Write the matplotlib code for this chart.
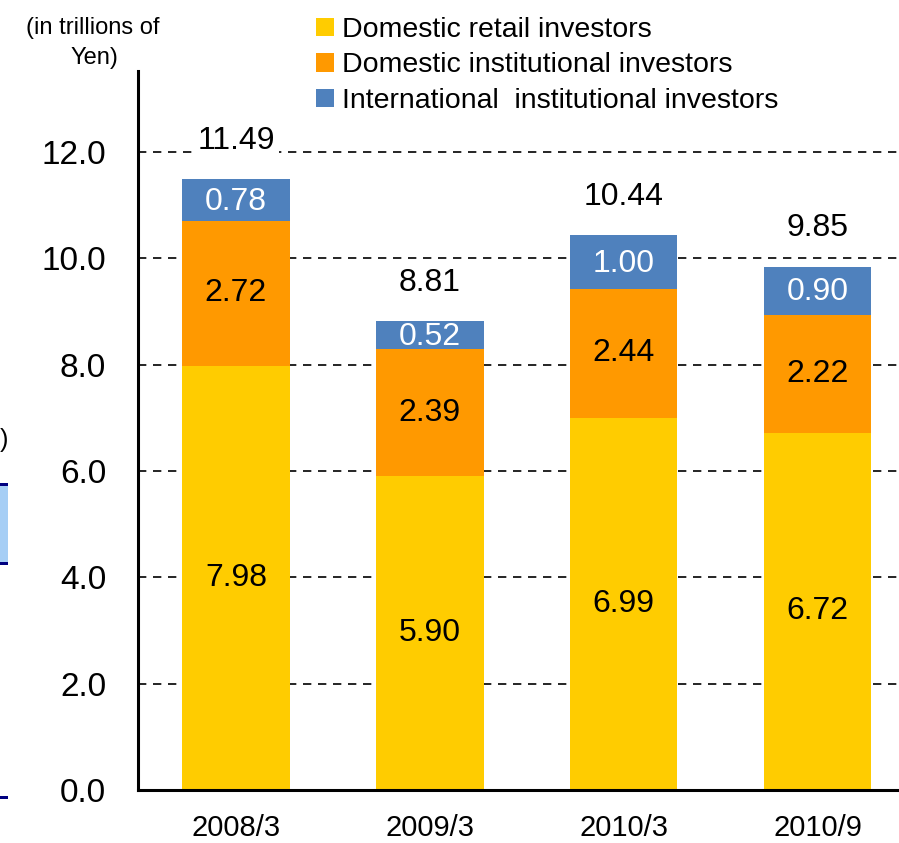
import matplotlib
matplotlib.use("Agg")
import matplotlib.pyplot as plt
from matplotlib.patches import Rectangle
import numpy as np

categories = ["2008/3", "2009/3", "2010/3", "2010/9"]
retail = [7.98, 5.90, 6.99, 6.72]
dom_inst = [2.72, 2.39, 2.44, 2.22]
intl_inst = [0.78, 0.52, 1.00, 0.90]
totals = [11.49, 8.81, 10.44, 9.85]
yticks = [0.0, 2.0, 4.0, 6.0, 8.0, 10.0, 12.0]
series_names = ["Domestic retail investors", "Domestic institutional investors",
                "International  institutional investors"]

plt.rcParams['font.family'] = ['Liberation Sans', 'DejaVu Sans']

W, H = 899, 843
fig = plt.figure(figsize=(W/100, H/100), dpi=100)
ax = fig.add_axes([138/W, 1-790/H, (W-138)/W, (790-71)/H])

x = np.arange(len(categories))
c_retail, c_dom, c_intl = "#FFCC00", "#FF9900", "#4F81BD"
w = 0.555
b1 = ax.bar(x, retail, w, color=c_retail, label=series_names[0], zorder=3)
b2 = ax.bar(x, dom_inst, w, bottom=retail, color=c_dom, label=series_names[1], zorder=3)
bot3 = np.array(retail) + np.array(dom_inst)
b3 = ax.bar(x, intl_inst, w, bottom=bot3, color=c_intl, label=series_names[2], zorder=3)

fs = 23
for i in range(len(x)):
    ax.text(x[i], retail[i]/2, f"{retail[i]:.2f}", ha="center", va="center", fontsize=fs, zorder=5)
    ax.text(x[i], retail[i] + dom_inst[i]/2, f"{dom_inst[i]:.2f}", ha="center", va="center", fontsize=fs, zorder=5)
    ax.text(x[i], bot3[i] + intl_inst[i]/2 - 0.03, f"{intl_inst[i]:.2f}", ha="center", va="center",
            fontsize=fs, color="white", zorder=5)
    ax.text(x[i], totals[i] + 0.72, f"{totals[i]:.2f}", ha="center", va="center", fontsize=fs, zorder=5,
            bbox=dict(boxstyle="square,pad=0.15", fc="white", ec="none"))

ax.set_xlim(-0.505, 3.42)
ax.set_ylim(0, 13.52)
ax.set_yticks(yticks)
ax.set_yticklabels([f"{v:.1f}" for v in yticks], fontsize=24)
ax.set_xticks(x)
ax.set_xticklabels(categories, fontsize=21)
ax.tick_params(axis="y", length=0, pad=23)
ax.tick_params(axis="x", length=0, pad=17)
for v in yticks[1:]:
    ax.axhline(v, color="black", lw=1.2, ls=(0, (5, 4)), zorder=1)
for s in ["top", "right"]:
    ax.spines[s].set_visible(False)
ax.spines["left"].set_linewidth(2.2)
ax.spines["bottom"].set_linewidth(2.2)
ax.spines["left"].set_zorder(6)
ax.spines["bottom"].set_zorder(6)

leg = fig.legend(handles=[b1, b2, b3], labels=series_names, loc="upper left",
                 bbox_to_anchor=(316/W, 1-17/H), frameon=False, fontsize=20.5,
                 handlelength=0.62, handleheight=0.62, handletextpad=0.3,
                 labelspacing=0.33, borderaxespad=0, borderpad=0)

fig.text(93/W, 1-28/H, "(in trillions of", ha="center", va="center", fontsize=17)
fig.text(94/W, 1-58/H, "Yen)", ha="center", va="center", fontsize=17)

# cropped slide remnants at left edge
fig.text(0, 1-440/H, ")", ha="left", va="center", fontsize=18)
fig.patches.append(Rectangle((0, 1-563/H), 8/W, 79/H, transform=fig.transFigure,
                             fc="#A6CEF5", ec="none"))
fig.patches.append(Rectangle((0, 1-486/H), 8/W, 3/H, transform=fig.transFigure, fc="#000080", ec="none"))
fig.patches.append(Rectangle((0, 1-565/H), 8/W, 3/H, transform=fig.transFigure, fc="#000080", ec="none"))
fig.patches.append(Rectangle((0, 1-799/H), 8/W, 3/H, transform=fig.transFigure, fc="#000080", ec="none"))

fig.savefig("out.png", dpi=100)
